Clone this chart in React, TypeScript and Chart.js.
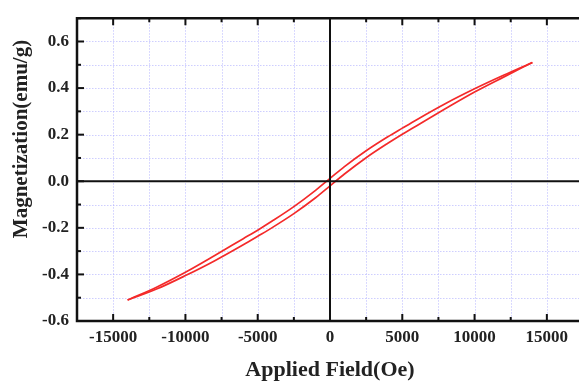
import React, { useEffect, useRef } from "react";
import { Chart, registerables } from "chart.js";

Chart.register(...registerables);

// Ascending-field branch (lower curve), Oe -> emu/g
const ascField = [-14000, -12000, -10000, -8000, -6000, -5000, -4000, -2500, -1000, 0, 1000, 2500, 4000, 5000, 6000, 8000, 10000, 12000, 14000];
const ascMag = [-0.51, -0.463, -0.405, -0.342, -0.2725, -0.236, -0.199, -0.139, -0.071, -0.02, 0.031, 0.101, 0.163, 0.202, 0.2385, 0.312, 0.383, 0.447, 0.51];

// Descending-field branch (upper curve)
const descField = [14000, 12000, 10000, 8000, 6000, 5000, 4000, 2500, 1000, 0, -1000, -2500, -4000, -5000, -6000, -8000, -10000, -12000, -14000];
const descMag = [0.51, 0.455, 0.397, 0.334, 0.2645, 0.228, 0.191, 0.131, 0.063, 0.012, -0.039, -0.109, -0.171, -0.21, -0.2465, -0.32, -0.391, -0.455, -0.51];

const xMajorLabels = [-15000, -10000, -5000, 0, 5000, 10000, 15000];
const yMajorLabels = [-0.6, -0.4, -0.2, 0.0, 0.2, 0.4, 0.6];

const xTitle = "Applied Field(Oe)";
const yTitle = "Magnetization(emu/g)";

const SERIF = '"Liberation Serif", "Times New Roman", serif';

const framePlugin = {
  id: "framePlugin",
  beforeDatasetsDraw(chart: any) {
    const { ctx, chartArea, scales } = chart;
    const { left, right, top, bottom } = chartArea;
    const x = scales.x;
    const y = scales.y;
    ctx.save();
    ctx.strokeStyle = "rgba(165,165,255,0.55)";
    ctx.lineWidth = 1;
    ctx.setLineDash([1.5, 1.5]);
    x.ticks.forEach((t: any) => {
      const px = Math.round(x.getPixelForValue(t.value)) + 0.5;
      ctx.beginPath();
      ctx.moveTo(px, top);
      ctx.lineTo(px, bottom);
      ctx.stroke();
    });
    y.ticks.forEach((t: any) => {
      const py = Math.round(y.getPixelForValue(t.value)) + 0.5;
      ctx.beginPath();
      ctx.moveTo(left, py);
      ctx.lineTo(right, py);
      ctx.stroke();
    });
    ctx.restore();
  },
  afterDatasetsDraw(chart: any) {
    const { ctx, chartArea, scales } = chart;
    const { left, right, top, bottom } = chartArea;
    const x = scales.x;
    const y = scales.y;
    ctx.save();
    ctx.setLineDash([]);
    ctx.strokeStyle = "#111";
    // zero lines
    ctx.lineWidth = 2;
    const x0 = x.getPixelForValue(0);
    const y0 = y.getPixelForValue(0);
    ctx.beginPath();
    ctx.moveTo(left, y0);
    ctx.lineTo(right, y0);
    ctx.moveTo(x0, top);
    ctx.lineTo(x0, bottom);
    ctx.stroke();
    // frame
    ctx.lineWidth = 2.5;
    ctx.beginPath();
    ctx.moveTo(right + 5, top);
    ctx.lineTo(left, top);
    ctx.lineTo(left, bottom);
    ctx.lineTo(right + 5, bottom);
    ctx.stroke();
    // ticks
    ctx.lineWidth = 2;
    x.ticks.forEach((t: any) => {
      const px = x.getPixelForValue(t.value);
      if (px <= left + 1) return;
      const len = t.value % 5000 === 0 ? 7 : 4;
      ctx.beginPath();
      ctx.moveTo(px, bottom);
      ctx.lineTo(px, bottom - len);
      ctx.moveTo(px, top);
      ctx.lineTo(px, top + len);
      ctx.stroke();
    });
    y.ticks.forEach((t: any) => {
      const n = Math.round(t.value * 10);
      const py = y.getPixelForValue(t.value);
      const len = n % 2 === 0 ? 7 : 4;
      ctx.beginPath();
      ctx.moveTo(left, py);
      ctx.lineTo(left + len, py);
      ctx.stroke();
    });
    // y title
    ctx.fillStyle = "#222";
    ctx.font = `bold 21px ${SERIF}`;
    ctx.textAlign = "center";
    ctx.textBaseline = "middle";
    ctx.translate(22, 139);
    ctx.rotate(-Math.PI / 2);
    ctx.fillText(yTitle, 0, 0);
    ctx.restore();
  },
};

export default function App() {
  const ref = useRef<HTMLCanvasElement | null>(null);
  useEffect(() => {
    if (!ref.current) return;
    const chart = new Chart(ref.current, {
      type: "line",
      data: {
        datasets: [
          {
            data: ascField.map((h, i) => ({ x: h, y: ascMag[i] })),
            borderColor: "#f42a2a",
            borderWidth: 1.7,
            pointRadius: 0,
            cubicInterpolationMode: "monotone",
            fill: false,
          },
          {
            data: descField.map((h, i) => ({ x: h, y: descMag[i] })),
            borderColor: "#f42a2a",
            borderWidth: 1.7,
            pointRadius: 0,
            cubicInterpolationMode: "monotone",
            fill: false,
          },
        ],
      },
      options: {
        responsive: false,
        animation: false,
        layout: { padding: { top: 14, left: 0, right: 0, bottom: 0 } },
        plugins: { legend: { display: false }, tooltip: { enabled: false } },
        scales: {
          x: {
            type: "linear",
            min: -17500,
            max: 17500,
            grid: { display: false, drawTicks: false },
            border: { display: false },
            ticks: {
              stepSize: 2500,
              autoSkip: false,
              maxRotation: 0,
              padding: 6,
              color: "#222",
              font: { family: SERIF, size: 17, weight: "bold" },
              callback: (v: any) => (xMajorLabels.includes(Number(v)) ? String(v) : ""),
            },
            title: {
              display: true,
              text: xTitle,
              color: "#222",
              font: { family: SERIF, size: 22, weight: "bold", lineHeight: 1 },
              padding: 0,
            },
            afterFit: (s: any) => {
              s.height = 60;
            },
          },
          y: {
            type: "linear",
            min: -0.6,
            max: 0.7,
            grid: { display: false, drawTicks: false },
            border: { display: false },
            ticks: {
              stepSize: 0.1,
              autoSkip: false,
              padding: 8,
              color: "#222",
              font: { family: SERIF, size: 17, weight: "bold" },
              callback: (v: any) => {
                const n = Math.round(Number(v) * 10);
                const val = n / 10;
                return yMajorLabels.some((m) => Math.abs(m - val) < 1e-9) ? val.toFixed(1) : "";
              },
            },
            afterFit: (s: any) => {
              s.width = 77;
            },
          },
        },
      },
      plugins: [framePlugin],
    } as any);
    return () => chart.destroy();
  }, []);
  return (
    <div
      style={{
        position: "fixed",
        left: 0,
        top: 0,
        width: 579,
        height: 381,
        overflow: "hidden",
        background: "#fff",
      }}
    >
      <canvas ref={ref} width={589} height={381} style={{ display: "block" }} />
    </div>
  );
}
